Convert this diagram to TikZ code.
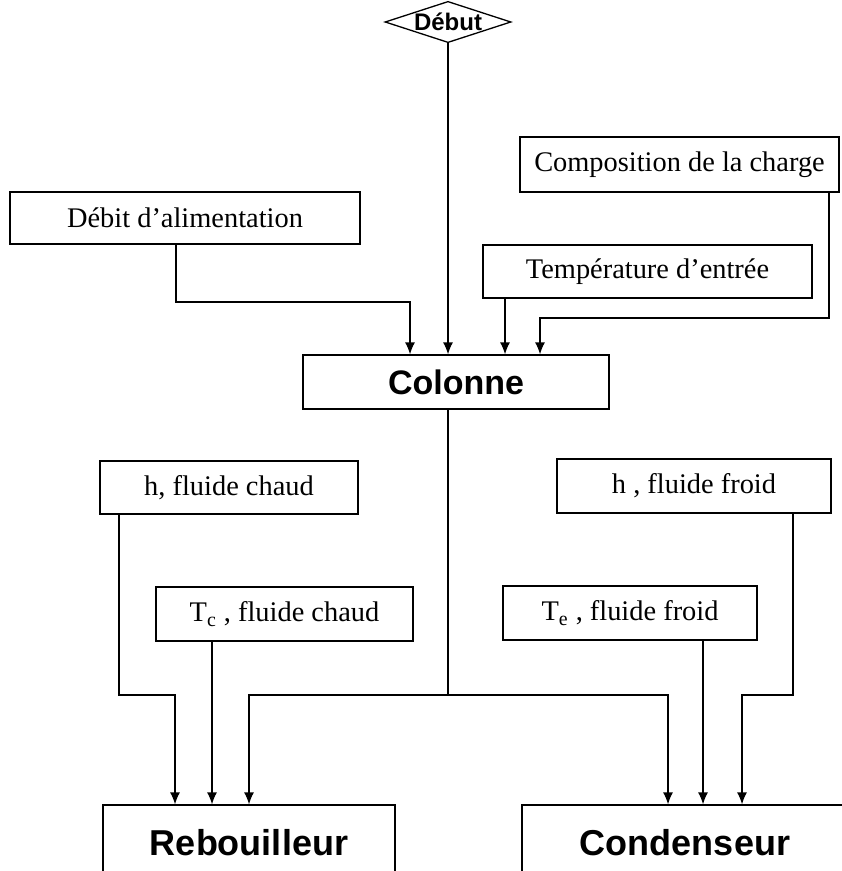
\documentclass[tikz,border=0pt]{standalone}
\usepackage{fontspec}
\setmainfont{Liberation Serif}
\setsansfont{Liberation Sans}
\usetikzlibrary{shapes.geometric,arrows.meta}

\begin{document}
\begin{tikzpicture}[x=0.5pt, y=-0.5pt, line width=0.65pt,
    boite/.style={draw, rectangle, inner sep=0pt, font=\fontsize{14.2}{17}\selectfont},
    titre/.style={draw, rectangle, inner sep=0pt, font=\sffamily\bfseries\fontsize{18}{21}\selectfont},
    fleche/.style={-{Latex[length=6pt,width=5pt]}}]

  \useasboundingbox (0,0) rectangle (841,871);

  \node[draw, diamond, aspect=2.9, inner sep=0pt, minimum width=63pt,
    font=\sffamily\bfseries\fontsize{12}{14}\selectfont] (debut) at (448,22) {Début};

  \node[boite, minimum width=175pt, minimum height=26pt] (dal) at (185,218) {Débit d’alimentation};
  \node[boite, minimum width=159.5pt, minimum height=27.5pt] (comp) at (679.5,164.5) {Composition de la charge};
  \node[boite, minimum width=164.5pt, minimum height=26.5pt] (temp) at (647.5,271.5) {Température d’entrée};

  \node[titre, minimum width=153pt, minimum height=27pt, font=\sffamily\bfseries\fontsize{17}{20}\selectfont] (col) at (456,382) {Colonne};

  \node[boite, minimum width=129pt, minimum height=26.5pt] (hch) at (229,487.5) {h, fluide chaud};
  \node[boite, minimum width=128.5pt, minimum height=27pt] (tch) at (284.5,614) {T\textsubscript{c} , fluide chaud};
  \node[boite, minimum width=137pt, minimum height=27pt] (hfr) at (694,486) {h , fluide froid};
  \node[boite, minimum width=127pt, minimum height=27pt] (tfr) at (630,613) {T\textsubscript{e} , fluide froid};

  \node[titre, minimum width=146pt, minimum height=38pt] (reb) at (249,843) {Rebouilleur};
  \node[titre, minimum width=163pt, minimum height=38pt] (cond) at (685,843) {Condenseur};

  \coordinate (jonction) at (448,695);

  \draw[fleche] (debut.south) -- (debut.south |- col.north);
  \draw[fleche] (176,0 |- dal.south) |- (410,302) -- (410,0 |- col.north);
  \draw[fleche] (505,0 |- temp.south) -- (505,0 |- col.north);
  \draw[fleche] (829,0 |- comp.south) |- (540,318) -- (540,0 |- col.north);

  \draw (debut.south |- col.south) -- (jonction);
  \draw[fleche] (jonction) -| (reb.north);
  \draw[fleche] (jonction) -| (668,0 |- cond.north);

  \draw[fleche] (119,0 |- hch.south) |- (175,695) -- (175,0 |- reb.north);
  \draw[fleche] (212,0 |- tch.south) -- (212,0 |- reb.north);
  \draw[fleche] (793,0 |- hfr.south) |- (742,695) -- (742,0 |- cond.north);
  \draw[fleche] (703,0 |- tfr.south) -- (703,0 |- cond.north);

\end{tikzpicture}
\end{document}
